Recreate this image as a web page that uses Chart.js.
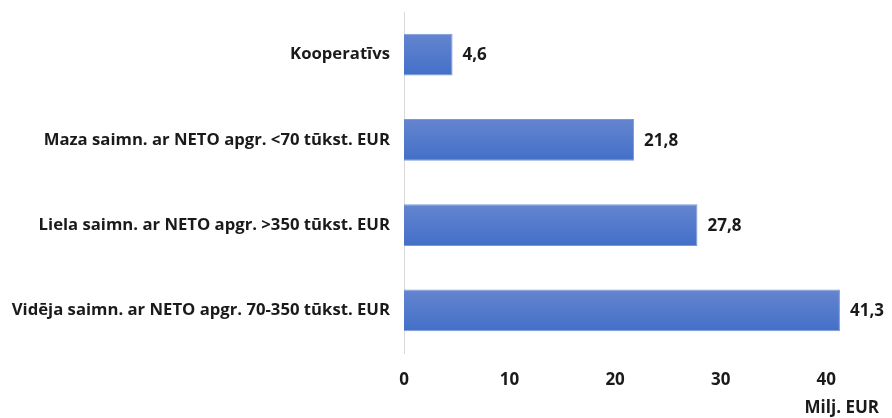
<!DOCTYPE html>
<html>
<head>
<meta charset="utf-8">
<script src="https://cdn.jsdelivr.net/npm/chart.js@4"></script>
<style>
  body { margin: 0; background: #fff; }
  #wrap { width: 892px; height: 418px; }
</style>
</head>
<body>
<div id="wrap"><canvas id="chart" width="892" height="418"></canvas></div>
<script>
const categories = [
  "Kooperatīvs",
  "Maza saimn. ar NETO apgr. <70 tūkst. EUR",
  "Liela saimn. ar NETO apgr. >350 tūkst. EUR",
  "Vidēja saimn. ar NETO apgr. 70-350 tūkst. EUR",
];
const values = [4.6, 21.8, 27.8, 41.3];
const valueLabels = ["4,6", "21,8", "27,8", "41,3"];

const FONT = "'Open Sans', Lato, sans-serif";

// vertical gradient per bar, like the office style fill
function barFill(c) {
  const chart = c.chart;
  const y = chart.scales.y;
  if (!y || c.dataIndex === undefined) return "#4a74c6";
  const mid = y.getPixelForValue(c.dataIndex);
  const half = (y.height / categories.length) * 0.49 / 2;
  if (!isFinite(mid) || !isFinite(half) || half <= 0) return "#4a74c6";
  const g = chart.ctx.createLinearGradient(0, mid - half, 0, mid + half);
  g.addColorStop(0, "#6585cf");
  g.addColorStop(1, "#4270c8");
  return g;
}

const valueLabelPlugin = {
  id: "valueLabels",
  afterDatasetsDraw(chart) {
    const ctx = chart.ctx;
    const meta = chart.getDatasetMeta(0);
    ctx.save();
    ctx.font = "bold 17px " + FONT;
    ctx.fillStyle = "#1a1a1a";
    ctx.textBaseline = "middle";
    ctx.textAlign = "left";
    meta.data.forEach((bar, i) => {
      ctx.fillText(valueLabels[i], bar.x + 10, bar.y + 1);
    });
    ctx.restore();
  },
};

new Chart(document.getElementById("chart"), {
  type: "bar",
  data: {
    labels: categories,
    datasets: [
      {
        data: values,
        backgroundColor: barFill,
        borderColor: "#7b98d6",
        borderWidth: 1,
        categoryPercentage: 0.7,
        barPercentage: 0.7,
      },
    ],
  },
  options: {
    indexAxis: "y",
    responsive: false,
    animation: false,
    layout: { padding: { top: 12, right: 13, left: 0, bottom: 0 } },
    scales: {
      y: {
        grid: { display: false, drawTicks: false },
        border: { display: true, color: "#d9d9d9", width: 1 },
        ticks: {
          padding: 14,
          color: "#1a1a1a",
          font: { family: FONT, size: 16.7, weight: "bold" },
        },
        afterFit(s) {
          s.width = 404;
          s.paddingTop = 0;
          s.paddingBottom = 0;
        },
      },
      x: {
        min: 0,
        max: 45,
        grid: { display: false, drawTicks: false },
        border: { display: false },
        ticks: {
          stepSize: 10,
          padding: 17,
          color: "#1a1a1a",
          font: { family: FONT, size: 17, weight: "bold" },
          callback: (v) => (v % 10 === 0 ? v : ""),
        },
        title: {
          display: true,
          text: "Milj. EUR",
          align: "end",
          color: "#1a1a1a",
          font: { family: FONT, size: 17, weight: "bold" },
          padding: { top: 3, bottom: 0 },
        },
        afterFit(s) {
          s.height = 65;
          s.paddingLeft = 0;
          s.paddingRight = 0;
        },
      },
    },
    plugins: {
      legend: { display: false },
      tooltip: { enabled: false },
    },
  },
  plugins: [valueLabelPlugin],
});
</script>
</body>
</html>
